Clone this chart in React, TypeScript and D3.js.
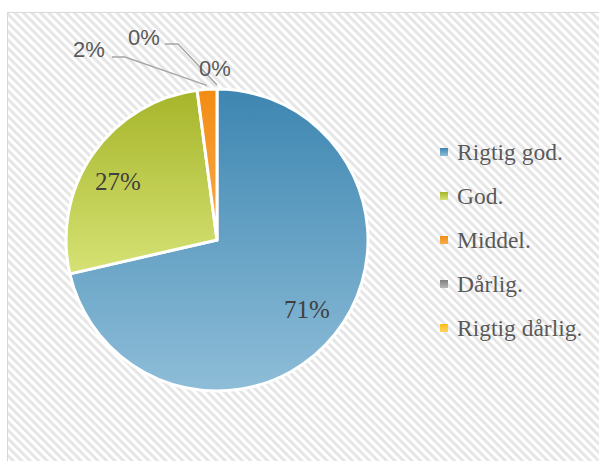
import React from "react";
import * as d3 from "d3";

const categories = ["Rigtig god.", "God.", "Middel.", "Dårlig.", "Rigtig dårlig."];
const values = [71.4, 26.5, 2.1, 0, 0];
const valueLabels = ["71%", "27%", "2%", "0%", "0%"];

const gradTop = ["#3d86b1", "#a6b52a", "#f28c12", "#7f7f7f", "#fbbd1b"];
const gradBottom = ["#8ebdd8", "#d6e274", "#f8ab4e", "#b5b5b5", "#fdd55c"];

// label layout (Excel-placed labels)
const labelPos: { x: number; y: number; inside: boolean; line: boolean; lineStart?: [number, number] }[] = [
  { x: 307, y: 309, inside: true, line: false },
  { x: 118, y: 181, inside: true, line: false },
  { x: 89, y: 49, inside: false, line: true, lineStart: [112, 57] },
  { x: 144, y: 37, inside: false, line: true, lineStart: [165, 44] },
  { x: 215, y: 68, inside: false, line: false },
];

export default function App() {
  const W = 599, H = 461;
  const cx = 217, cy = 240, r = 151;
  const pie = d3.pie<number>().sort(null).value((d) => d)(values);
  const arc = d3.arc<d3.PieArcDatum<number>>().innerRadius(0).outerRadius(r);

  const legendX = 440, legendY0 = 152, legendStep = 44;

  return (
    <svg width={W} height={H} style={{ position: "absolute", left: 0, top: 0 }}>
      <defs>
        <pattern id="stripes" width="6" height="6" patternUnits="userSpaceOnUse" patternTransform="rotate(-45)">
          <rect width="6" height="6" fill="#ffffff" />
          <rect width="3" height="6" fill="#e6e6e6" />
        </pattern>
        {categories.map((c, i) => (
          <linearGradient key={c} id={`g${i}`} x1="0" y1="0" x2="0" y2="1">
            <stop offset="0" stopColor={gradTop[i]} />
            <stop offset="1" stopColor={gradBottom[i]} />
          </linearGradient>
        ))}
      </defs>
      <rect x={0} y={0} width={W} height={H} fill="#fff" />
      <rect x={7.5} y={12.5} width={W} height={H} fill="url(#stripes)" stroke="#d9d9d9" strokeWidth={1} />

      <g transform={`translate(${cx},${cy})`}>
        {pie.map((p, i) =>
          p.value > 0 ? (
            <path key={i} d={arc(p) || ""} fill={`url(#g${i})`} stroke="#ffffff" strokeWidth={3} strokeLinejoin="round" />
          ) : null
        )}
      </g>

      {pie.map((p, i) => {
        const lp = labelPos[i];
        const mid = (p.startAngle + p.endAngle) / 2;
        const ex = cx + (r + 4) * Math.sin(mid);
        const ey = cy - (r + 4) * Math.cos(mid);
        return (
          <g key={`l${i}`}>
            {lp.line && lp.lineStart ? (
              <polyline
                points={`${lp.lineStart[0]},${lp.lineStart[1]} ${lp.lineStart[0] + 13},${lp.lineStart[1]} ${ex},${ey}`}
                fill="none"
                stroke="#a6a6a6"
                strokeWidth={1.5}
              />
            ) : null}
            <text
              x={lp.x}
              y={lp.y}
              textAnchor="middle"
              dominantBaseline="central"
              fontFamily={lp.inside ? "'Liberation Serif', serif" : "'Liberation Sans', sans-serif"}
              fontSize={lp.inside ? 25 : 22}
              fill={lp.inside ? "#404040" : "#595959"}
            >
              {valueLabels[i]}
            </text>
          </g>
        );
      })}

      {categories.map((c, i) => (
        <g key={`lg${i}`} transform={`translate(${legendX},${legendY0 + i * legendStep})`}>
          <rect x={0} y={-4} width={8} height={8} fill={`url(#g${i})`} />
          <text x={17} y={0} dominantBaseline="central" fontFamily="'Liberation Serif', serif" fontSize={23.5} fill="#595959">
            {c}
          </text>
        </g>
      ))}
    </svg>
  );
}
